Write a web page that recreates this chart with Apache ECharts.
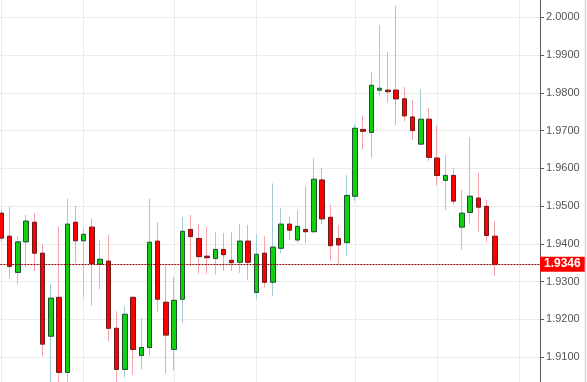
<!DOCTYPE html>
<html><head><meta charset="utf-8">
<script src="https://cdn.jsdelivr.net/npm/echarts@6/dist/echarts.min.js"></script>
<style>html,body{margin:0;padding:0;background:#fff}#c{width:587px;height:382px}</style>
</head><body><div id="c"></div>
<script>
// 61 candles + 5 empty slots on the right
const categories = ['1','2','3','4','5','6','7','8','9','10','11','12','13','14','15','16','17','18','19','20',
  '21','22','23','24','25','26','27','28','29','30','31','32','33','34','35','36','37','38','39','40',
  '41','42','43','44','45','46','47','48','49','50','51','52','53','54','55','56','57','58','59','60',
  '61','62','63','64','65','66'];
const opens  = [1.9481,1.9420,1.9324,1.9405,1.9457,1.9375,1.9155,1.9258,1.9059,1.9457,
                1.9408,1.9444,1.9346,1.9354,1.9176,1.9067,1.9258,1.9104,1.9125,1.9407,
                1.9245,1.9120,1.9253,1.9438,1.9414,1.9367,1.9361,1.9385,1.9356,1.9351,
                1.9407,1.9271,1.9375,1.9298,1.9388,1.9452,1.9410,1.9438,1.9432,1.9569,
                1.9470,1.9414,1.9403,1.9526,1.9703,1.9695,1.9807,1.9807,1.9807,1.9784,
                1.9736,1.9664,1.9730,1.9627,1.9568,1.9581,1.9444,1.9483,1.9521,1.9499,
                1.9420];
const closes = [1.9415,1.9340,1.9405,1.9460,1.9375,1.9134,1.9256,1.9059,1.9452,1.9408,
                1.9425,1.9348,1.9359,1.9176,1.9067,1.9213,1.9120,1.9125,1.9404,1.9253,
                1.9158,1.9250,1.9433,1.9419,1.9366,1.9363,1.9385,1.9371,1.9350,1.9407,
                1.9351,1.9372,1.9298,1.9391,1.9452,1.9436,1.9446,1.9432,1.9571,1.9466,
                1.9395,1.9397,1.9528,1.9706,1.9698,1.9820,1.9812,1.9803,1.9784,1.9739,
                1.9700,1.9730,1.9629,1.9581,1.9581,1.9513,1.9481,1.9526,1.9497,1.9422,
                1.9346];
const lows   = [1.9405,1.9307,1.9292,1.9339,1.9328,1.9101,1.9030,1.9025,1.9034,1.9349,
                1.9259,1.9236,1.9279,1.9141,1.9030,1.9045,1.9053,1.9067,1.9103,1.9220,
                1.9056,1.9064,1.9190,1.9341,1.9320,1.9320,1.9318,1.9328,1.9328,1.9323,
                1.9305,1.9252,1.9284,1.9262,1.9375,1.9410,1.9403,1.9401,1.9427,1.9451,
                1.9355,1.9346,1.9368,1.9514,1.9651,1.9628,1.9790,1.9774,1.9715,1.9724,
                1.9675,1.9662,1.9620,1.9554,1.9488,1.9503,1.9384,1.9453,1.9432,1.9405,
                1.9315];
const highs  = [1.9492,1.9498,1.9420,1.9476,1.9481,1.9399,1.9293,1.9445,1.9520,1.9500,
                1.9441,1.9466,1.9410,1.9423,1.9221,1.9235,1.9260,1.9204,1.9519,1.9456,
                1.9342,1.9312,1.9471,1.9476,1.9452,1.9444,1.9430,1.9428,1.9430,1.9452,
                1.9450,1.9425,1.9420,1.9560,1.9494,1.9471,1.9489,1.9553,1.9627,1.9601,
                1.9503,1.9450,1.9582,1.9717,1.9739,1.9855,1.9980,1.9908,2.0030,1.9815,
                1.9781,1.9810,1.9760,1.9712,1.9635,1.9600,1.9543,1.9683,1.9587,1.9516,
                1.9460];
const gridLineIdx = [0, 10, 21, 31, 43, 53, 63];
const yMin = 1.90, yMax = 2.01, yStep = 0.01;

const n = opens.length;
const wickData = categories.map((c, i) => i < n ? [opens[i], closes[i], lows[i], highs[i]] : '-');
const bodyData = categories.map((c, i) => i < n ? [opens[i], closes[i], Math.min(opens[i], closes[i]), Math.max(opens[i], closes[i])] : '-');
const lastClose = closes[n - 1];
const gridCats = Array.from({length: categories.length * 2 + 1}, (_, j) => 'g' + j);

const chart = echarts.init(document.getElementById('c'), null, {renderer: 'canvas'});
chart.setOption({
  animation: false,
  backgroundColor: '#fff',
  grid: {left: -2.6, right: 47, top: -20.4, bottom: -12.7, outerBoundsMode: 'none', containLabel: false},
  xAxis: [
    {type: 'category', data: categories, boundaryGap: true,
     axisLine: {show: false}, axisTick: {show: false}, axisLabel: {show: false}, splitLine: {show: false}},
    {type: 'category', data: gridCats, boundaryGap: false, position: 'top',
     axisLine: {show: false}, axisTick: {show: false}, axisLabel: {show: false},
     splitLine: {show: true, interval: (idx) => idx % 2 === 1 && gridLineIdx.includes((idx - 1) / 2),
                 lineStyle: {color: '#ebebeb', width: 1}}}
  ],
  yAxis: {
    type: 'value', position: 'right', min: yMin, max: yMax, interval: yStep,
    axisLine: {show: true, lineStyle: {color: '#555', width: 1}},
    axisTick: {show: true, length: 4, lineStyle: {color: '#555'}},
    axisLabel: {margin: 6, color: '#555', fontSize: 11, fontFamily: 'Arial, "Liberation Sans", sans-serif',
                formatter: v => v.toFixed(4)},
    splitLine: {show: true, lineStyle: {color: '#ebebeb', width: 1}}
  },
  graphic: [{type: 'line', shape: {x1: 585.5, y1: 0, x2: 585.5, y2: 382},
             style: {stroke: '#d8d8e2', lineWidth: 1.5}, silent: true}],
  series: [
    {type: 'candlestick', name: 'wick', data: wickData, barWidth: 5,
     itemStyle: {color: '#ffffff', color0: '#ffffff', borderColor: '#a3ccd3', borderColor0: '#f4a3ab', borderWidth: 1}},
    {type: 'candlestick', name: 'body', data: bodyData, barWidth: 5,
     itemStyle: {color: '#0fd20f', color0: '#ff0000', borderColor: '#23502f', borderColor0: '#6b1b1b', borderWidth: 1},
     markLine: {
       silent: true, symbol: 'none', precision: 4,
       lineStyle: {color: '#990000', type: [2, 1], width: 1},
       label: {show: true, position: 'end', distance: 0,
               formatter: p => Number(p.value).toFixed(4),
               backgroundColor: '#ff0000', color: '#fff', fontWeight: 'bold', fontSize: 12,
               fontFamily: 'Arial, "Liberation Sans", sans-serif',
               padding: [2, 4, 1, 4], lineHeight: 12},
       data: [{yAxis: lastClose}]
     }}
  ]
});
</script></body></html>
